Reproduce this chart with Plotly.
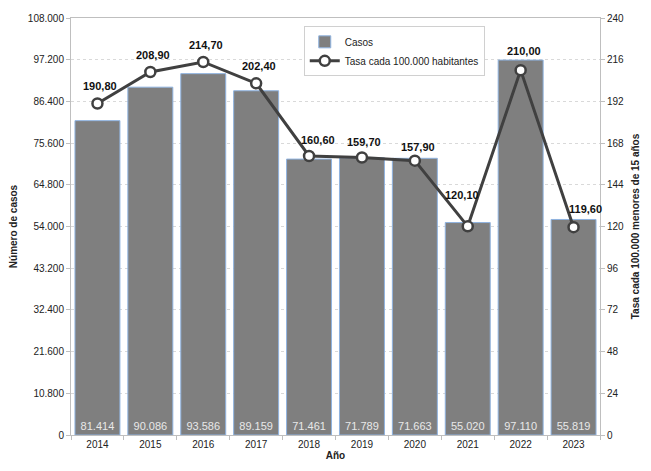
import plotly.graph_objects as go

years = ["2014", "2015", "2016", "2017", "2018", "2019", "2020", "2021", "2022", "2023"]
casos = [81414, 90086, 93586, 89159, 71461, 71789, 71663, 55020, 97110, 55819]
tasa = [190.8, 208.9, 214.7, 202.4, 160.6, 159.7, 157.9, 120.1, 210.0, 119.6]
label_dx = [3, 3, 3, 3, 9, 2, 3, -6, 3, 12]
label_dy = [17, 17, 17, 17, 16, 16, 14, 31, 19, 18]

FONT = "Liberation Sans"

fig = go.Figure()
fig.add_trace(go.Bar(
    x=years, y=casos, name="Casos",
    marker=dict(color="#7f7f7f", line=dict(color="#8fb3e0", width=1)),
    texttemplate="%{y:,.0f}", textposition="inside", insidetextanchor="start",
    textfont=dict(color="#e8e8e8", size=11, family=FONT), textangle=0,
    yaxis="y",
))
fig.add_trace(go.Scatter(
    x=years, y=tasa, name="Tasa cada 100.000 habitantes", yaxis="y2",
    mode="lines+markers",
    line=dict(color="#404040", width=3),
    marker=dict(symbol="circle", size=10, color="white", line=dict(color="#404040", width=2.5)),
))

for i, (v, dx, dy) in enumerate(zip(tasa, label_dx, label_dy)):
    fig.add_annotation(
        x=i, y=v, xref="x", yref="y2", showarrow=False,
        text="<b>" + f"{v:.2f}".replace(".", ",") + "</b>",
        yshift=dy, xshift=dx,
        font=dict(color="#111111", size=11, family=FONT),
    )

fig.update_layout(
    width=651, height=471,
    margin=dict(l=71, r=48, t=18, b=34),
    paper_bgcolor="white", plot_bgcolor="white",
    separators=",.",
    bargap=0.15,
    font=dict(family=FONT, size=10, color="#222222"),
    showlegend=True,
    legend=dict(x=0.44, y=0.98, xanchor="left", yanchor="top",
                bgcolor="white", bordercolor="#d0d0d0", borderwidth=1,
                font=dict(size=10, family=FONT), tracegroupgap=0,
                itemwidth=30),
    xaxis=dict(
        type="category", range=[-0.5, 9.5], autorange=False,
        showline=True, linecolor="#bfbfbf", mirror=True,
        ticks="outside", tickson="boundaries", ticklen=4, tickcolor="#bfbfbf",
        title=dict(text="<b>Año</b>", standoff=2, font=dict(size=10)),
        tickfont=dict(size=10),
    ),
    yaxis=dict(
        range=[0, 108000], dtick=10800, tickformat=",.0f",
        showgrid=True, gridcolor="#d9d9d9", griddash="dot",
        showline=True, linecolor="#bfbfbf", ticks="outside", ticklen=4, tickcolor="#bfbfbf",
        title=dict(text="<b>Número de casos</b>", standoff=8, font=dict(size=10)),
        zeroline=False,
    ),
    yaxis2=dict(
        range=[0, 240], dtick=24, overlaying="y", side="right",
        showgrid=False, showline=True, linecolor="#bfbfbf",
        ticks="outside", ticklen=4, tickcolor="#bfbfbf",
        title=dict(text="<b>Tasa cada 100.000 menores de 15 años</b>", standoff=8, font=dict(size=10)),
        zeroline=False,
    ),
)

fig.write_html("out.html")
